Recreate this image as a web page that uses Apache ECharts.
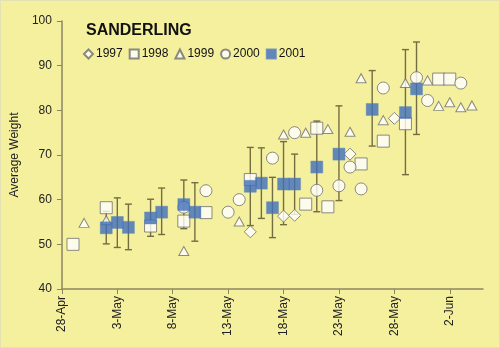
<!DOCTYPE html>
<html>
<head>
<meta charset="utf-8">
<script src="https://cdn.jsdelivr.net/npm/echarts@6/dist/echarts.min.js"></script>
<style>
  html, body { margin: 0; padding: 0; background: #ffffff; }
  #chart { width: 500px; height: 348px; box-sizing: border-box; border: 1px solid #e4e1b4; background: #F5F09E; }
</style>
</head>
<body>
<div id="chart"></div>
<script>
// Days counted from 28 April; weights in grams.
const dateTicks = ['28-Apr', '3-May', '8-May', '13-May', '18-May', '23-May', '28-May', '2-Jun'];
const tickDays = [0, 5, 10, 15, 20, 25, 30, 35];
const lastDay = 38;

const season1997 = [[17, 52.8], [20, 56.3], [21, 56.5], [26, 70.2], [30, 78.2]];
const season1998 = [[1, 50], [4, 58.2], [8, 54.1], [11, 55.2], [13, 57.1], [17, 64.5], [22, 59],
  [23, 76], [24, 58.4], [27, 68], [29, 73.1], [31, 77], [34, 87], [35, 87]];
const season1999 = [[2, 54.8], [4, 55.4], [11, 48.5], [16, 55.1], [20, 74.6], [22, 75], [24, 75.8],
  [26, 75.2], [27, 87.2], [29, 77.8], [31, 86.1], [33, 86.7], [34, 81], [35, 81.8], [36, 80.7], [37, 81.1]];
const season2000 = [[11, 58.3], [13, 62], [15, 57.2], [16, 60], [19, 69.3], [21, 75], [23, 62.1],
  [25, 63.1], [26, 67.3], [27, 62.4], [29, 85], [32, 87.3], [33, 82.2], [36, 86.1]];

// 2001: mean weight with the low and high ends of its spread
const days2001 = [4, 5, 6, 8, 9, 11, 12, 17, 18, 19, 20, 21, 23, 25, 28, 31, 32];
const mean2001 = [53.7, 54.9, 53.8, 55.9, 57.2, 58.9, 57.2, 63.0, 63.7, 58.2, 63.5, 63.5, 67.3, 70.2, 80.2, 79.5, 84.8];
const low2001  = [50.1, 49.3, 48.8, 51.8, 52.2, 53.5, 50.7, 54.2, 55.8, 51.5, 54.4, 56.7, 57.3, 59.8, 72.0, 65.6, 74.6];
const high2001 = [57.4, 60.4, 59.0, 60.1, 62.6, 64.4, 63.8, 71.7, 71.6, 65.0, 73.0, 70.2, 77.6, 81.0, 88.9, 93.6, 95.3];

const FONT = 'Liberation Sans, Arial, sans-serif';
const AXIS = '#8c8660';
const BAR = '#736d42';
const BLUE = '#3F6EBC';

const hollow = { color: '#ffffff', borderColor: '#6e6e6e', borderWidth: 1 };

const chart = echarts.init(document.getElementById('chart'), null, { renderer: 'canvas' });

chart.setOption({
  backgroundColor: 'transparent',
  animation: false,
  textStyle: { fontFamily: FONT },
  title: {
    text: 'SANDERLING',
    left: 80, top: 17,
    textStyle: { fontFamily: FONT, fontSize: 16, fontWeight: 'bold', color: '#111' }
  },
  legend: {
    left: 77, top: 42,
    itemWidth: 9, itemHeight: 9, itemGap: 6,
    textStyle: { fontFamily: FONT, fontSize: 12, color: '#111', padding: [0, 0, 0, -2] },
    data: ['1997', '1998', '1999', '2000', '2001']
  },
  grid: { left: 60, right: 16, top: 20, bottom: 58 },
  xAxis: {
    type: 'value', min: 0, max: lastDay,
    splitLine: { show: false },
    axisLine: { show: true, onZero: false, lineStyle: { color: AXIS, width: 1.5 } },
    axisTick: { show: true, length: 5, customValues: tickDays, lineStyle: { color: AXIS } },
    axisLabel: {
      rotate: 90, margin: 7, fontSize: 12, color: '#222', fontFamily: FONT,
      customValues: tickDays,
      formatter: v => dateTicks[tickDays.indexOf(v)] ?? ''
    }
  },
  yAxis: {
    type: 'value', min: 40, max: 100, interval: 10,
    name: 'Average Weight', nameLocation: 'middle', nameGap: 36, nameRotate: 90,
    nameTextStyle: { fontFamily: FONT, fontSize: 12, color: '#222' },
    splitLine: { show: false },
    axisLine: { show: true, lineStyle: { color: AXIS, width: 1.5 } },
    axisTick: { show: true, length: 5, lineStyle: { color: AXIS } },
    axisLabel: { margin: 10, fontSize: 12, color: '#222', fontFamily: FONT }
  },
  series: [
    {
      type: 'custom', name: 'spread', z: 1,
      data: days2001.map((d, i) => [d, low2001[i], high2001[i]]),
      encode: { x: 0, y: [1, 2] },
      renderItem: (params, api) => {
        const x = api.value(0);
        const top = api.coord([x, api.value(2)]);
        const bot = api.coord([x, api.value(1)]);
        const w = 3.5;
        const style = { stroke: BAR, lineWidth: 1.4 };
        return {
          type: 'group',
          children: [
            { type: 'line', shape: { x1: top[0], y1: top[1], x2: bot[0], y2: bot[1] }, style },
            { type: 'line', shape: { x1: top[0] - w, y1: top[1], x2: top[0] + w, y2: top[1] }, style },
            { type: 'line', shape: { x1: bot[0] - w, y1: bot[1], x2: bot[0] + w, y2: bot[1] }, style }
          ]
        };
      }
    },
    { type: 'scatter', name: '1997', z: 2, symbol: 'diamond', symbolSize: 12, data: season1997, itemStyle: hollow },
    { type: 'scatter', name: '1998', z: 2, symbol: 'rect', symbolSize: 12, data: season1998, itemStyle: hollow },
    { type: 'scatter', name: '1999', z: 2, symbol: 'triangle', symbolSize: [10, 9], data: season1999, itemStyle: hollow },
    { type: 'scatter', name: '2000', z: 2, symbol: 'circle', symbolSize: 12, data: season2000, itemStyle: hollow },
    {
      type: 'scatter', name: '2001', z: 3, symbol: 'rect', symbolSize: 12,
      data: days2001.map((d, i) => [d, mean2001[i]]),
      itemStyle: { color: BLUE, borderColor: '#5a82c4', borderWidth: 0.5 }
    }
  ]
});
</script>
</body>
</html>
